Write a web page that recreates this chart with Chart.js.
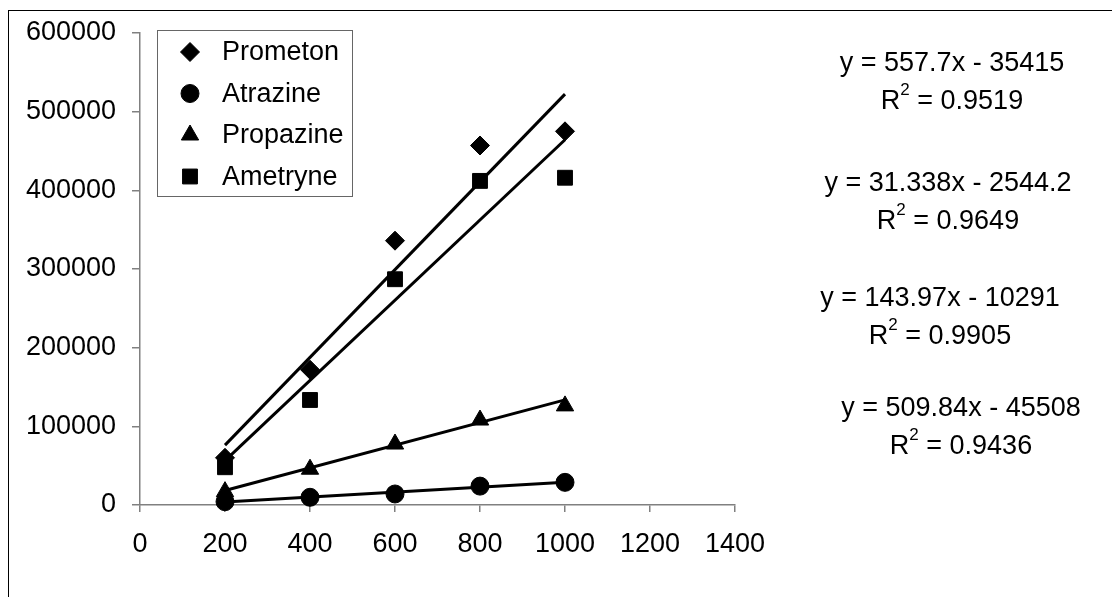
<!DOCTYPE html>
<html>
<head>
<meta charset="utf-8">
<script src="https://cdn.jsdelivr.net/npm/chart.js@4/dist/chart.umd.min.js"></script>
<style>
    body { margin: 0; background: #fff; }
    canvas { display: block; }
</style>
</head>
<body>
<canvas id="myChart" width="1112" height="597"></canvas>
<script>
'use strict';

// concentrations (x) and peak areas
let xValues = [200, 400, 600, 800, 1000];
let prometon = [60000, 172000, 336000, 457000, 475000];
let atrazine = [4200, 9800, 14000, 24000, 28800];
let propazine = [17000, 45500, 77500, 108000, 126000];
let ametryne = [48000, 133500, 287000, 412000, 416000];

let names = ['Prometon', 'Atrazine', 'Propazine', 'Ametryne'];
let markers = ['rectRot', 'circle', 'triangle', 'rect'];
let markerSize = [9.5, 9, 10, 10.5];

// trendline equations printed on the right
let slopes = [557.7, 31.338, 143.97, 509.84];
let intercepts = [-35415, -2544.2, -10291, -45508];
let eqTexts = ['y = 557.7x - 35415', 'y = 31.338x - 2544.2', 'y = 143.97x - 10291', 'y = 509.84x - 45508'];
let r2Texts = ['0.9519', '0.9649', '0.9905', '0.9436'];

let xTicks = [0, 200, 400, 600, 800, 1000, 1200, 1400];
let yTicks = [0, 100000, 200000, 300000, 400000, 500000, 600000];

let FONT = '"Liberation Sans", Arial, sans-serif';
let series = [prometon, atrazine, propazine, ametryne];

let datasets = [];

// fitted lines from first to last x
for (let i = 0; i < series.length; i++) {
    let x0 = xValues[0];
    let x1 = xValues[xValues.length - 1];
    datasets.push({
        label: names[i] + ' trend',
        data: [
            { x: x0, y: slopes[i] * x0 + intercepts[i] },
            { x: x1, y: slopes[i] * x1 + intercepts[i] }
        ],
        showLine: true,
        borderColor: '#000',
        borderWidth: 3,
        pointRadius: 0,
        clip: false,
        order: 2
    });
}

for (let i = 0; i < series.length; i++) {
    datasets.push({
        label: names[i],
        data: xValues.map((x, j) => ({ x: x, y: series[i][j] })),
        showLine: false,
        pointStyle: markers[i],
        pointRadius: markerSize[i],
        pointBackgroundColor: '#000',
        pointBorderColor: '#000',
        pointBorderWidth: 1,
        clip: false,
        order: 1
    });
}

let extras = {
    id: 'extras',
    afterDraw(chart) {
        let ctx = chart.ctx;
        ctx.save();

        // outer frame (only left and top show in the picture)
        ctx.strokeStyle = '#000';
        ctx.lineWidth = 1;
        ctx.strokeRect(8.5, 10.5, 1200, 1200);

        // legend box
        ctx.fillStyle = '#fff';
        ctx.fillRect(157, 30, 195, 166);
        ctx.strokeStyle = '#666';
        ctx.strokeRect(157.5, 30.5, 195, 166);
        ctx.font = '27px ' + FONT;
        ctx.textBaseline = 'middle';
        ctx.textAlign = 'left';
        let rowY = [52, 93.5, 135, 176.5];
        for (let i = 0; i < names.length; i++) {
            ctx.fillStyle = '#000';
            ctx.strokeStyle = '#000';
            Chart.helpers.drawPoint(ctx, { pointStyle: markers[i], radius: markerSize[i], borderWidth: 1 }, 190, rowY[i]);
            ctx.fillStyle = '#000';
            ctx.fillText(names[i], 222, rowY[i] + 1);
        }

        // equations
        let eqX = [952, 948, 940, 961];
        let eqY = [64, 184, 299, 409];
        ctx.fillStyle = '#000';
        for (let i = 0; i < eqTexts.length; i++) {
            ctx.font = '27px ' + FONT;
            ctx.textAlign = 'center';
            ctx.fillText(eqTexts[i], eqX[i], eqY[i]);

            let rest = ' = ' + r2Texts[i];
            let wR = ctx.measureText('R').width;
            let wRest = ctx.measureText(rest).width;
            ctx.font = '17px ' + FONT;
            let w2 = ctx.measureText('2').width;
            let total = wR + w2 + wRest;
            let start = eqX[i] - total / 2;
            let ry = eqY[i] + 38;
            ctx.textAlign = 'left';
            ctx.font = '27px ' + FONT;
            ctx.fillText('R', start, ry);
            ctx.font = '17px ' + FONT;
            ctx.fillText('2', start + wR, ry - 12);
            ctx.font = '27px ' + FONT;
            ctx.fillText(rest, start + wR + w2, ry);
        }
        ctx.restore();
    }
};

let ctx = document.getElementById('myChart').getContext('2d');

let myChart = new Chart(ctx, {
    type: 'scatter',
    data: { datasets: datasets },
    options: {
        responsive: false,
        animation: false,
        layout: { padding: { left: 0, top: 33, right: 377, bottom: 0 } },
        plugins: {
            legend: { display: false },
            tooltip: { enabled: false }
        },
        scales: {
            x: {
                type: 'linear',
                min: 0,
                max: 1400,
                afterBuildTicks: (scale) => { scale.ticks = xTicks.map(v => ({ value: v })); },
                afterFit: (scale) => { scale.height = 92; },
                grid: { drawOnChartArea: false, drawTicks: true, tickLength: 7, color: '#808080', lineWidth: 1.5 },
                border: { display: true, color: '#808080', width: 1.5 },
                ticks: { color: '#000', font: { family: FONT, size: 27 }, padding: 16, maxRotation: 0, callback: v => String(v) }
            },
            y: {
                type: 'linear',
                min: 0,
                max: 600000,
                afterBuildTicks: (scale) => { scale.ticks = yTicks.map(v => ({ value: v })); },
                afterFit: (scale) => { scale.width = 140; },
                grid: { drawOnChartArea: false, drawTicks: true, tickLength: 8, color: '#808080', lineWidth: 1.5 },
                border: { display: true, color: '#808080', width: 1.5 },
                ticks: { color: '#000', font: { family: FONT, size: 27 }, padding: 16, callback: v => String(v) }
            }
        }
    },
    plugins: [extras]
});
</script>
</body>
</html>
